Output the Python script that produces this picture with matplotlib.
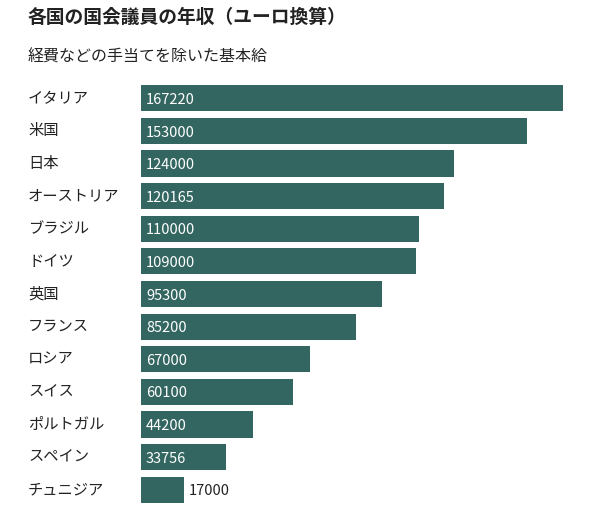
import matplotlib
matplotlib.use("Agg")
import matplotlib.pyplot as plt

plt.rcParams['font.family'] = ['Noto Sans CJK JP', 'DejaVu Sans']

countries = ["イタリア", "米国", "日本", "オーストリア", "ブラジル", "ドイツ", "英国",
             "フランス", "ロシア", "スイス", "ポルトガル", "スペイン", "チュニジア"]
salaries = [167220, 153000, 124000, 120165, 110000, 109000, 95300,
            85200, 67000, 60100, 44200, 33756, 17000]

W, H = 589, 521
fig = plt.figure(figsize=(W / 100, H / 100), dpi=100)
ax = fig.add_axes([141 / W, 1 - 506 / H, 422 / W, 424 / H])

color = "#336660"
ys = range(len(countries))
ax.barh(ys, salaries, height=0.8, color=color)
ax.set_xlim(0, max(salaries))
ax.set_ylim(len(countries) - 0.5, -0.5)
ax.axis("off")

for y, name, v in zip(ys, countries, salaries):
    fig.text(28 / W, 0, "", )  # placeholder removed below
    ax.text(-113 / 422 * max(salaries), y, name, ha="left", va="center",
            fontsize=11, color="#222222")
    if v > 30000:
        ax.text(max(salaries) * 5 / 422, y + 0.05, str(v), ha="left", va="center",
                fontsize=10.5, color="white")
    else:
        ax.text(v + max(salaries) * 5 / 422, y + 0.05, str(v), ha="left", va="center",
                fontsize=10.5, color="#222222")

fig.text(28 / W, 1 - 17 / H, "各国の国会議員の年収（ユーロ換算）", fontsize=13.5,
         fontweight="bold", ha="left", va="center", color="#222222")
fig.text(28 / W, 1 - 57 / H, "経費などの手当てを除いた基本給", fontsize=11.5,
         ha="left", va="center", color="#222222")

fig.savefig("out.png", dpi=100)
